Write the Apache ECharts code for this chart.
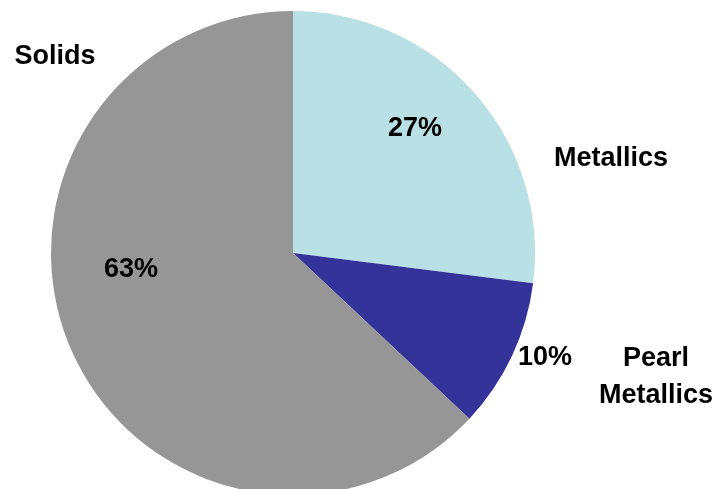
<!DOCTYPE html>
<html>
<head>
<meta charset="utf-8">
<script src="https://cdn.jsdelivr.net/npm/echarts@6/dist/echarts.min.js"></script>
<style>
html,body{margin:0;padding:0;background:#fff;}
#main{width:716px;height:489px;}
</style>
</head>
<body>
<div id="main"></div>
<script>
const categories = ['Metallics', 'Pearl\nMetallics', 'Solids'];
const shares = [27, 10, 63];
const colors = ['#B9E0E4', '#333399', '#969696'];

// label anchor positions (layout only)
const pctPos = [[415, 129], [545, 358], [131, 270]];
const namePos = [[611, 159], [656, 377], [55, 57]];

const FONT = '"Liberation Sans Narrow", "Arial Narrow", "Liberation Sans", Arial, sans-serif';

const data = categories.map((c, i) => ({ name: c, value: shares[i], itemStyle: { color: colors[i] } }));

const chart = echarts.init(document.getElementById('main'), null, { renderer: 'canvas' });
chart.setOption({
  animation: false,
  backgroundColor: '#ffffff',
  series: [
    {
      type: 'pie',
      center: [293, 253],
      radius: 242,
      startAngle: 90,
      clockwise: true,
      silent: true,
      avoidLabelOverlap: false,
      data: data,
      itemStyle: { borderWidth: 0 },
      label: {
        show: true,
        position: 'inside',
        formatter: p => p.value + '%',
        color: '#000',
        fontFamily: FONT,
        fontWeight: 'bold',
        fontSize: 27
      },
      labelLine: { show: false },
      labelLayout: p => ({ x: pctPos[p.dataIndex][0], y: pctPos[p.dataIndex][1], align: 'center', verticalAlign: 'middle' })
    },
    {
      type: 'pie',
      center: [293, 253],
      radius: 242,
      startAngle: 90,
      clockwise: true,
      silent: true,
      avoidLabelOverlap: false,
      data: categories.map((c, i) => ({ name: c, value: shares[i] })),
      itemStyle: { color: 'rgba(0,0,0,0)', borderWidth: 0 },
      label: {
        show: true,
        position: 'inside',
        formatter: '{b}',
        color: '#000',
        fontFamily: FONT,
        fontWeight: 'bold',
        fontSize: 27,
        lineHeight: 37,
        align: 'center'
      },
      labelLine: { show: false },
      labelLayout: p => ({ x: namePos[p.dataIndex][0], y: namePos[p.dataIndex][1], align: 'center', verticalAlign: 'middle' })
    }
  ]
});
</script>
</body>
</html>
